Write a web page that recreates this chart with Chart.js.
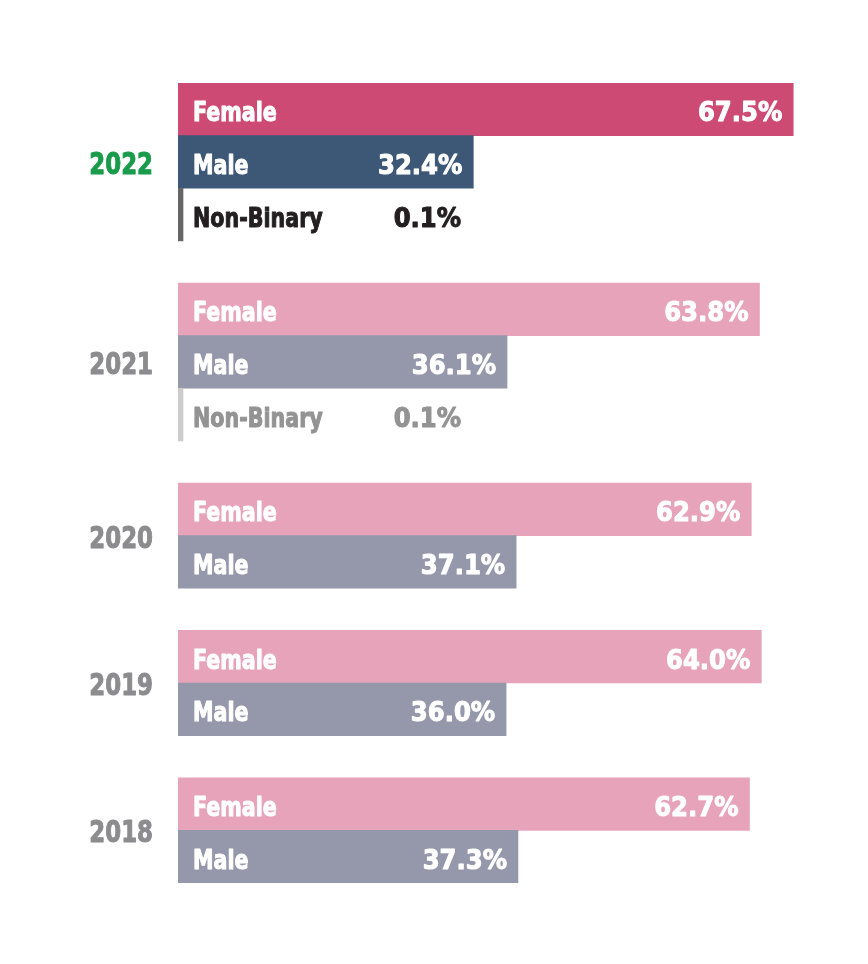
<!DOCTYPE html>
<html>
<head>
<meta charset="utf-8">
<script src="https://cdn.jsdelivr.net/npm/chart.js@4.4.1/dist/chart.umd.min.js"></script>
<style>
  body { margin: 0; background: #fff; }
  #wrap { width: 868px; height: 964px; position: relative; }
</style>
</head>
<body>
<div id="wrap"><canvas id="genderChart"></canvas></div>
<script>
// Data
const years = ['2022', '2021', '2020', '2019', '2018'];
const female = [67.5, 63.8, 62.9, 64.0, 62.7];
const male = [32.4, 36.1, 37.1, 36.0, 37.3];
const nonBinary = [0.1, 0.1, null, null, null];
const seriesNames = ['Female', 'Male', 'Non-Binary'];

// Colours: the latest year is highlighted
const hiColors = ['#cc4a74', '#3d5777', '#666666'];
const loColors = ['#e6a3b9', '#9597aa', '#cccccc'];
const FONT = '"DejaVu Sans Condensed", "DejaVu Sans", sans-serif';
const GROUP_GAP = 0.8; // extra space between years, in rows

// One row per bar; rows of a year are one unit apart, years are split by a gap
const rowPoints = [];
const rowColors = [];
const rowInfo = [];
const groups = [];
let pos = 0;
years.forEach(function(year, i) {
    const first = pos;
    const vals = [female[i], male[i], nonBinary[i]];
    vals.forEach(function(v, s) {
        if (v === null) return;
        rowPoints.push({ x: v, y: pos });
        rowColors.push(i === 0 ? hiColors[s] : loColors[s]);
        rowInfo.push({ name: seriesNames[s], series: s, highlight: i === 0 });
        pos += 1;
    });
    groups.push({ year: year, first: first, last: pos - 1, highlight: i === 0 });
    pos += GROUP_GAP;
});
const lastPos = pos - GROUP_GAP - 1;

// Heavy, narrow text
function drawText(ctx, text, x, y, align, sx, color) {
    ctx.save();
    ctx.translate(x, y);
    ctx.scale(sx, 1);
    ctx.textAlign = align;
    ctx.fillStyle = color;
    ctx.strokeStyle = color;
    ctx.lineWidth = 1;
    ctx.lineJoin = 'round';
    ctx.fillText(text, 0, 0);
    ctx.strokeText(text, 0, 0);
    ctx.restore();
}

// Draws the names, values and year labels
const labelPlugin = {
    id: 'barLabels',
    afterDatasetsDraw(chart) {
        const ctx = chart.ctx;
        const meta = chart.getDatasetMeta(0);
        const yScale = chart.scales.y;
        ctx.save();
        ctx.textBaseline = 'alphabetic';
        ctx.font = '700 27px ' + FONT;
        meta.data.forEach(function(bar, idx) {
            const info = rowInfo[idx];
            const val = rowPoints[idx].x.toFixed(1) + '%';
            const baseY = bar.y + 12;
            if (info.series === 2) {
                const c = info.highlight ? '#231f20' : '#939393';
                drawText(ctx, info.name, bar.base + 15, baseY, 'left', 0.85, c);
                drawText(ctx, val, bar.base + 283, baseY, 'right', 1, c);
            } else {
                drawText(ctx, info.name, bar.base + 15, baseY, 'left', 0.85, '#ffffff');
                drawText(ctx, val, bar.x - 11, baseY, 'right', 1, '#ffffff');
            }
        });
        ctx.font = '700 31px ' + FONT;
        groups.forEach(function(g) {
            const y = (yScale.getPixelForValue(g.first) + yScale.getPixelForValue(g.last)) / 2;
            drawText(ctx, g.year, chart.chartArea.left - 25, y + 12, 'right', 0.82,
                g.highlight ? '#1a9b4b' : '#8c8c8e');
        });
        ctx.restore();
    }
};

const ctx = document.getElementById('genderChart').getContext('2d');
const genderChart = new Chart(ctx, {
    type: 'bar',
    data: {
        datasets: [{
            data: rowPoints,
            backgroundColor: rowColors,
            borderWidth: 0,
            barPercentage: 1,
            categoryPercentage: 1,
            minBarLength: 5
        }]
    },
    options: {
        indexAxis: 'y',
        responsive: true,
        maintainAspectRatio: false,
        animation: false,
        layout: {
            padding: { left: 178, right: 52, top: 83, bottom: 81 }
        },
        plugins: {
            legend: { display: false },
            tooltip: { enabled: false }
        },
        scales: {
            x: { type: 'linear', display: false, min: 0, max: 70 },
            y: {
                type: 'linear',
                display: false,
                reverse: true,
                offset: false,
                min: -0.5,
                max: lastPos + 0.5,
                // ticks only on the rows, so each bar fills one row
                afterBuildTicks: function(axis) {
                    axis.ticks = rowPoints.map(function(p) { return { value: p.y }; });
                }
            }
        }
    },
    plugins: [labelPlugin]
});
</script>
</body>
</html>
